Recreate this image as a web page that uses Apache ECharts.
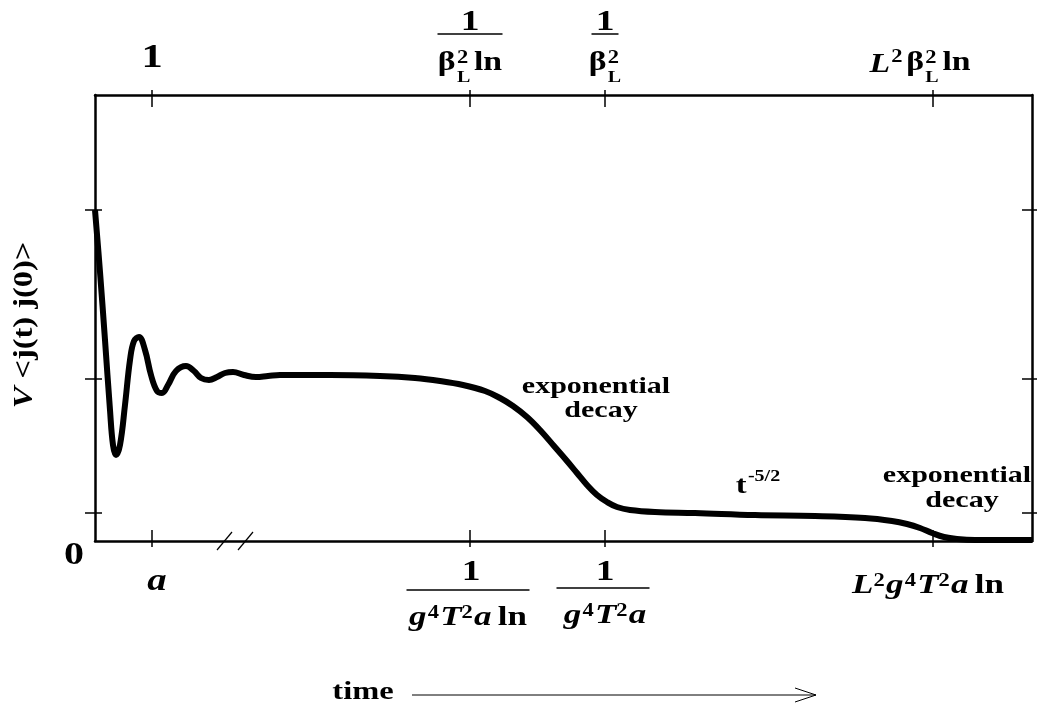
<!DOCTYPE html>
<html>
<head>
<meta charset="utf-8">
<script src="https://cdn.jsdelivr.net/npm/echarts@6/dist/echarts.min.js"></script>
<style>
  html, body { margin: 0; background: #fff; }
  #chart { width: 1038px; height: 711px; }
</style>
</head>
<body>
<div id="chart"></div>
<script>
// schematic units: time 0..937, correlator 0..446
var timeMax = 937;
var corrMax = 446;
var timeVals = [0, 5, 10, 15, 18, 21, 25, 30, 35, 39, 44, 50, 56, 62, 67, 73, 81, 91, 99, 106, 114, 122, 130, 138, 149, 161, 173, 185, 235, 285, 320, 345, 368, 390, 405, 418, 432, 445, 459, 472, 482, 492, 502, 512, 522, 535, 560, 600, 660, 720, 770, 797, 812, 825, 837, 849, 862, 880, 910, 937];
var corrVals = [331, 269, 201, 131, 96, 86, 96, 136, 181, 200, 204, 191, 166, 150, 148, 156, 170, 175, 170, 163, 161, 164, 168, 169, 166, 164, 165, 166, 166, 165, 163, 160, 156, 150, 143, 135, 124, 111, 95, 80, 68, 56, 46, 39, 34, 31, 29, 28, 26, 25, 23, 20, 17, 13, 8, 4, 2, 1, 1, 1];
var tickTimes = [57, 375, 510, 838];
var tickCorr = [28, 162, 331];
var breakTimes = [129, 150];

var SERIF = '"Liberation Serif", "Times New Roman", serif';
var SX = 1.25; // the original figure is stretched sideways

var myChart = echarts.init(document.getElementById('chart'));

function xAxisDef(grid, pos, len, inside, line) {
  return {
    type: 'value', gridIndex: grid, position: pos, min: 0, max: timeMax,
    axisLine: { show: line, onZero: false, lineStyle: { color: '#000', width: 2.5 } },
    axisTick: { show: true, inside: inside, length: len, customValues: tickTimes, lineStyle: { color: '#000', width: 1.5 } },
    axisLabel: { show: false },
    splitLine: { show: false }
  };
}
function yAxisDef(grid, pos, len, inside, line) {
  return {
    type: 'value', gridIndex: grid, position: pos, min: 0, max: corrMax,
    axisLine: { show: line, onZero: false, lineStyle: { color: '#000', width: 2.5 } },
    axisTick: { show: true, inside: inside, length: len, customValues: tickCorr, lineStyle: { color: '#000', width: 1.5 } },
    axisLabel: { show: false },
    splitLine: { show: false }
  };
}

myChart.setOption({
  animation: false,
  backgroundColor: '#fff',
  grid: [
    { left: 95, top: 95, width: 937, height: 446, containLabel: false, outerBoundsMode: 'none' },
    { left: 95, top: 95, width: 937, height: 446, containLabel: false, outerBoundsMode: 'none' }
  ],
  xAxis: [
    xAxisDef(0, 'bottom', 11, true, true),
    xAxisDef(0, 'top', 12, true, true),
    xAxisDef(1, 'bottom', 6, false, false),
    xAxisDef(1, 'top', 5, false, false)
  ],
  yAxis: [
    yAxisDef(0, 'left', 7, true, true),
    yAxisDef(0, 'right', 10, true, true),
    yAxisDef(1, 'left', 10, false, false),
    yAxisDef(1, 'right', 5, false, false)
  ],
  series: [{
    type: 'line',
    xAxisIndex: 0,
    yAxisIndex: 0,
    data: timeVals.map(function (t, i) { return [t, corrVals[i]]; }),
    smooth: 0.4,
    showSymbol: false,
    lineStyle: { color: '#000', width: 6 }
  }]
});

// ---- labels -----
var ctx = document.createElement('canvas').getContext('2d');
function P(t, fs, it, b, more) {
  var p = { t: t, fs: fs, it: !!it, b: b || 0 };
  for (var k in more || {}) p[k] = more[k];
  return p;
}
function rowEls(items, dx) {
  var w = 0, prev = null;
  items.forEach(function (p) {
    ctx.font = (p.it ? 'italic ' : '') + 'bold ' + p.fs + 'px ' + SERIF;
    p.w = ctx.measureText(p.t).width;
    if (p.stack && prev) {
      p.x = prev.x;
      w = prev.x + Math.max(prev.w, p.w);
    } else {
      w += (p.gap || 0);
      p.x = w;
      w += p.w;
    }
    prev = p;
  });
  return items.map(function (p) {
    return {
      type: 'text',
      x: (dx || 0) + p.x - w / 2,
      y: p.b - 0.34 * p.fs,
      style: {
        text: p.t, fill: '#000', fontFamily: SERIF, fontWeight: 'bold',
        fontStyle: p.it ? 'italic' : 'normal', fontSize: p.fs,
        align: 'left', verticalAlign: 'middle'
      }
    };
  });
}
function bar(y, w, dx) {
  return { type: 'line', shape: { x1: (dx || 0) - w / 2 / SX, y1: y, x2: (dx || 0) + w / 2 / SX, y2: y }, style: { stroke: '#000', lineWidth: 1.5 } };
}
function grp(x, y, children) {
  return { type: 'group', x: x, y: y, scaleX: SX, children: children };
}

var px = function (t) { return myChart.convertToPixel({ xAxisIndex: 0 }, t); };
var py = function (v) { return myChart.convertToPixel({ yAxisIndex: 0 }, v); };
var pt = function (t, v) { return myChart.convertToPixel({ seriesIndex: 0 }, [t, v]); };
var yT = py(corrMax), yB = py(0);

var g = [];
// top axis labels
g.push(grp(px(tickTimes[0]), yT, rowEls([P('1', 34, 0, -25)])));
g.push(grp(px(tickTimes[1]), yT, [].concat(
  rowEls([P('1', 30, 0, -63)]),
  [bar(-61, 65)],
  rowEls([P('β', 27, 0, -23), P('2', 18, 0, -31, { gap: 1 }), P('L', 16, 0, -12, { stack: true }), P('ln', 27, 0, -23, { gap: 3 })])
)));
g.push(grp(px(tickTimes[2]), yT, [].concat(
  rowEls([P('1', 30, 0, -63)]),
  [bar(-61, 27)],
  rowEls([P('β', 27, 0, -23), P('2', 18, 0, -31, { gap: 1 }), P('L', 16, 0, -12, { stack: true })])
)));
g.push(grp(px(tickTimes[3]) - 13, yT, rowEls([
  P('L', 27, 1, -21), P('2', 18, 0, -32, { gap: 1 }), P('β', 27, 0, -23, { gap: 3 }),
  P('2', 18, 0, -31, { gap: 1 }), P('L', 16, 0, -12, { stack: true }), P('ln', 27, 0, -23, { gap: 3 })
])));

// bottom axis labels
g.push(grp(px(0) - 21, yB, rowEls([P('0', 32, 0, 26)])));
g.push(grp(px(tickTimes[0]) + 5, yB, rowEls([P('a', 31, 1, 52)])));
g.push(grp(px(tickTimes[1]) - 2, yB, [].concat(
  rowEls([P('1', 30, 0, 41)], 3 / SX),
  [bar(49, 123)],
  rowEls([P('g', 28, 1, 86), P('4', 18, 0, 78, { gap: 1 }), P('T', 28, 1, 86, { gap: 1 }), P('2', 18, 0, 78),
    P('a', 28, 1, 86, { gap: 1 }), P('ln', 28, 0, 86, { gap: 5 })])
)));
g.push(grp(px(tickTimes[2]), yB, [].concat(
  rowEls([P('1', 30, 0, 41)]),
  [bar(47, 93, -2 / SX)],
  rowEls([P('g', 28, 1, 84), P('4', 18, 0, 76, { gap: 1 }), P('T', 28, 1, 84, { gap: 1 }), P('2', 18, 0, 76),
    P('a', 28, 1, 84, { gap: 1 })])
)));
g.push(grp(px(tickTimes[3]) - 5, yB, rowEls([
  P('L', 28, 1, 54), P('2', 18, 0, 46), P('g', 28, 1, 54, { gap: 1 }), P('4', 18, 0, 46, { gap: 1 }),
  P('T', 28, 1, 54, { gap: 1 }), P('2', 18, 0, 46), P('a', 28, 1, 54, { gap: 1 }), P('ln', 28, 0, 54, { gap: 5 })
])));

// annotations placed at data positions
var a1 = pt(501, 146);
g.push(grp(a1[0], a1[1], [].concat(rowEls([P('exponential', 24, 0, 0)]), rowEls([P('decay', 24, 0, 24)], 5 / SX))));
var a2 = pt(663, 46);
g.push(grp(a2[0], a2[1], rowEls([P('t', 26, 0, 0), P('-5/2', 16, 0, -13, { gap: 1 })])));
var a3 = pt(862, 57);
g.push(grp(a3[0], a3[1], [].concat(rowEls([P('exponential', 24, 0, 0)]), rowEls([P('decay', 24, 0, 25)], 5 / SX))));

// axis break marks
breakTimes.forEach(function (t) {
  var x = px(t);
  g.push({ type: 'line', shape: { x1: x - 7, y1: yB + 9, x2: x + 8, y2: yB - 9 }, style: { stroke: '#000', lineWidth: 1.2 } });
});

// y axis title
g.push({
  type: 'text', x: px(0) - 70, y: (yT + yB) / 2 + 7, rotation: Math.PI / 2, scaleX: 1.2,
  style: {
    text: '{v|V} <j(t) j(0)>', fill: '#000', fontFamily: SERIF, fontWeight: 'bold', fontSize: 27,
    align: 'center', verticalAlign: 'middle',
    rich: { v: { fontStyle: 'italic', fontWeight: 'bold', fontFamily: SERIF, fontSize: 27 } }
  }
});

// time arrow
g.push(grp(px(268), yB, rowEls([P('time', 26, 0, 160)])));
var ay = yB + 154, ax1 = px(317), ax2 = px(721);
g.push({ type: 'line', shape: { x1: ax1, y1: ay, x2: ax2, y2: ay }, style: { stroke: '#000', lineWidth: 1 } });
g.push({ type: 'polyline', shape: { points: [[ax2 - 21, ay - 7], [ax2, ay], [ax2 - 21, ay + 7]] }, style: { stroke: '#000', lineWidth: 1, fill: null } });

myChart.setOption({ graphic: g });
</script>
</body>
</html>
